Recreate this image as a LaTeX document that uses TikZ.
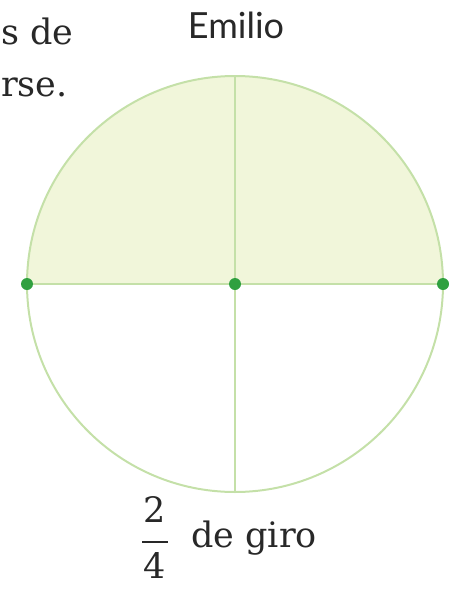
\documentclass[tikz,border=0pt]{standalone}
\usepackage{fontspec}
\setmainfont{DejaVu Serif}
\newfontfamily\handfont{Lato}
\definecolor{ring}{RGB}{196,224,168}
\definecolor{halffill}{RGB}{241,246,218}
\definecolor{dotgreen}{RGB}{48,160,64}
\definecolor{txt}{RGB}{40,40,40}
\begin{document}
\begin{tikzpicture}[x=1pt,y=-1pt,
  ringline/.style={draw=ring,line width=2pt},
  dotmark/.style={circle,fill=dotgreen,inner sep=0pt,minimum size=12pt},
  serif/.style={text=txt,font=\fontsize{35}{40}\selectfont,inner sep=0pt}]
\useasboundingbox (0,0) rectangle (449,589);
\coordinate (c) at (235,284);
\coordinate (l) at (27,284);
\coordinate (r) at (443,284);
\coordinate (t) at (235,76);
\coordinate (b) at (235,492);
\fill[halffill] (l) arc[start angle=180,end angle=0,radius=208pt] -- cycle;
\draw[ringline] (c) circle[radius=208pt];
\draw[ringline] (l) -- (r);
\draw[ringline] (t) -- (b);
\node[dotmark] (dl) at (l) {};
\node[dotmark] (dc) at (c) {};
\node[dotmark] (dr) at (r) {};
\node[serif,anchor=base west] (t1) at (1,44) {s de};
\node[serif,anchor=base west] (t2) at (1,96) {rse.};
\node[text=txt,font=\handfont\fontsize{36}{40}\selectfont,inner sep=0pt,anchor=base] (name) at (236,38) {Emilio};
\node[serif] (num) at (155,510) {2};
\draw[txt,line width=1.8pt] (142,542) -- (168,542);
\node[serif] (den) at (155,566) {4};
\node[serif,anchor=base west] (giro) at (191,547) {de giro};
\end{tikzpicture}
\end{document}
